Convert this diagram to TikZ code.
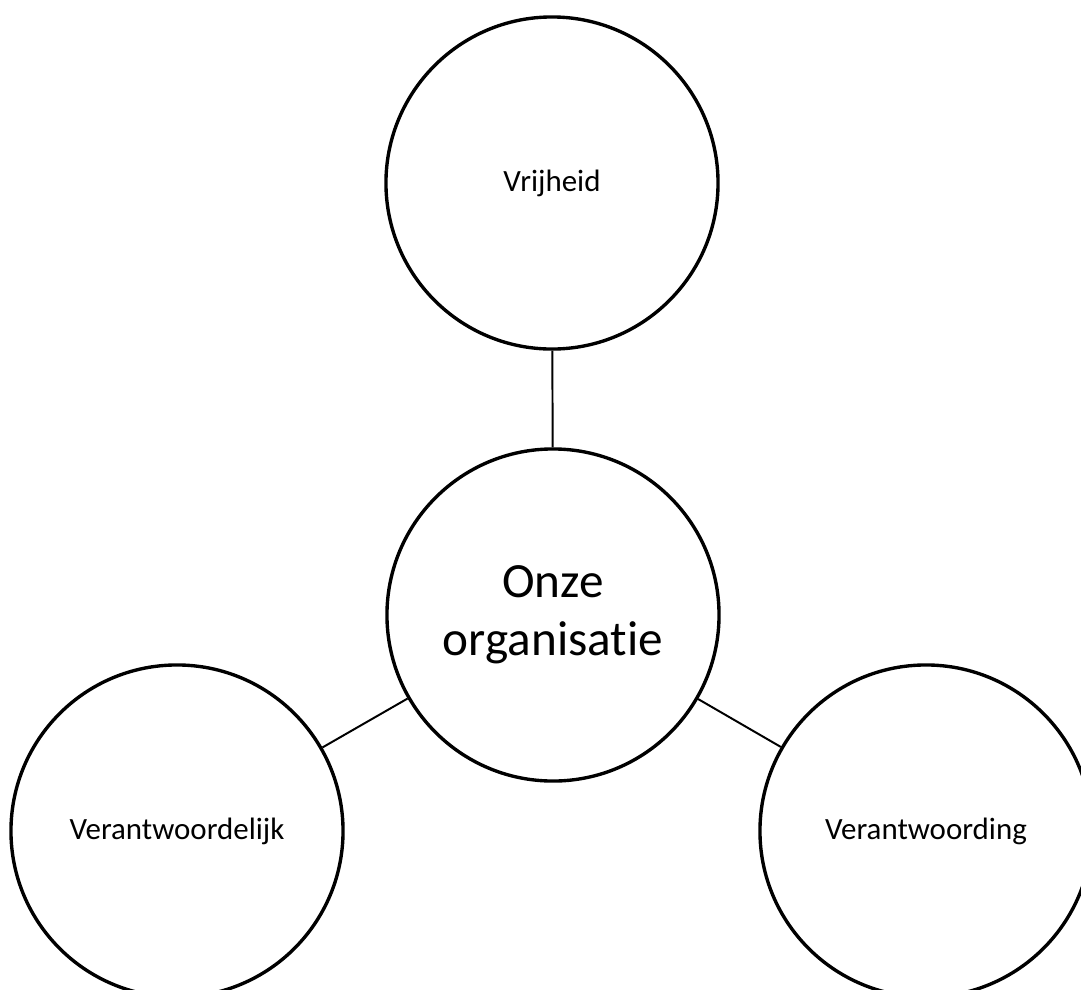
\documentclass[tikz,border=0pt]{standalone}
\usepackage{fontspec}
\setmainfont{Carlito}[Ligatures={NoCommon,NoDiscretionary,NoRare}]

\begin{document}
\begin{tikzpicture}[x=0.025cm, y=-0.025cm,
	ring/.style={draw, circle, line width=2.4pt, minimum size=8.3cm, inner sep=0pt, align=center, font=\fontsize{22}{26}\selectfont},
	link/.style={line width=1.4pt}]
	\clip (0,0) rectangle (1081,989);
	
	% -- Centre --
	\node[ring, font=\fontsize{35}{41}\selectfont] (org) at (553,615) {Onze\\organisatie};
	
	% -- Values round it --
	\node[ring] (vrij) at (552,183) {Vrijheid};
	\node[ring] (vlijk) at (177,831) {Verantwoordelijk};
	\node[ring] (vding) at (926,831) {Verantwoording};
	
	% -- Links --
	\foreach \n in {vrij, vlijk, vding}
		\draw[link] (org) -- (\n);
\end{tikzpicture}
\end{document}
